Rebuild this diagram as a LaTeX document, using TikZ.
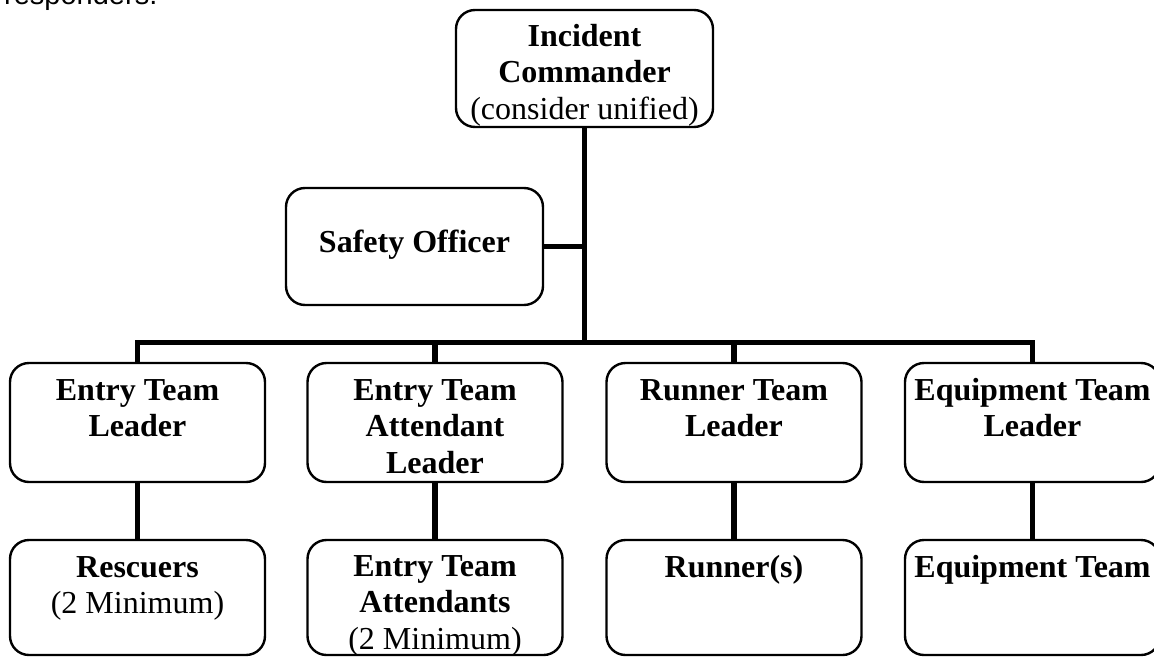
\documentclass[tikz,border=0pt]{standalone}
\usepackage{fontspec}
\setmainfont{Liberation Serif}
\newfontfamily\arialfont{Liberation Sans}
\begin{document}
\begin{tikzpicture}[x=1pt,y=-1pt,
  box/.style={draw, line width=2.4pt, rounded corners=19pt, minimum width=255pt, minimum height=#1, inner sep=0pt},
  box/.default=119pt,
  lbl/.style={inner sep=0pt, align=center, font=\fontsize{32}{36.5}\selectfont, anchor=north},
  conn/.style={line width=5.5pt}]
\useasboundingbox (0,0) rectangle (1154,656);
\clip (0,0) rectangle (1154,656);
% cut-off text at top
\node[inner sep=0pt, anchor=base west, font=\arialfont\fontsize{29}{34}\selectfont] (resp) at (4,4.5) {responders.};
% boxes
\node[box=117pt, minimum width=257pt] (ic) at (584.5,68.5) {};
\node[box=117pt, minimum width=257pt] (so) at (414.5,246.5) {};
\node[box] (etl) at (137.5,422.5) {};
\node[box] (eal) at (435,422.5) {};
\node[box] (rtl) at (734,422.5) {};
\node[box] (eql) at (1032.5,422.5) {};
\node[box=115pt] (res) at (137.5,597.5) {};
\node[box=115pt] (eta) at (435,597.5) {};
\node[box=115pt] (run) at (734,597.5) {};
\node[box=115pt] (eqt) at (1032.5,597.5) {};
% labels
\node[lbl] (ict) at ([yshift=-12pt]ic.north) {\rule{0pt}{25pt}\textbf{Incident}\\\textbf{Commander}\\(consider unified)};
\node[lbl, anchor=base] (sot) at (414.5,252) {\textbf{Safety Officer}};
\node[lbl] (etlt) at ([yshift=-13pt]etl.north) {\rule{0pt}{25pt}\textbf{Entry Team}\\\textbf{Leader}};
\node[lbl] (ealt) at ([yshift=-13pt]eal.north) {\rule{0pt}{25pt}\textbf{Entry Team}\\\textbf{Attendant}\\\textbf{Leader}};
\node[lbl] (rtlt) at ([yshift=-13pt]rtl.north) {\rule{0pt}{25pt}\textbf{Runner Team}\\\textbf{Leader}};
\node[lbl] (eqlt) at ([yshift=-13pt]eql.north) {\rule{0pt}{25pt}\textbf{Equipment Team}\\\textbf{Leader}};
\node[lbl] (rest) at ([yshift=-13pt]res.north) {\rule{0pt}{25pt}\textbf{Rescuers}\\(2 Minimum)};
\node[lbl] (etat) at ([yshift=-12pt]eta.north) {\rule{0pt}{25pt}\textbf{Entry Team}\\\textbf{Attendants}\\(2 Minimum)};
\node[lbl] (runt) at ([yshift=-13pt]run.north) {\rule{0pt}{25pt}\textbf{Runner(s)}};
\node[lbl] (eqtt) at ([yshift=-13pt]eqt.north) {\rule{0pt}{25pt}\textbf{Equipment Team}};
% connectors
\coordinate (bus) at (584.5,342.5);
\draw[conn] (ic.south) -- (bus);
\draw[conn] (so.east) -- (so.east -| ic.south);
\draw[conn, line cap=rect] (etl.north |- bus) -- (eql.north |- bus);
\draw[conn] (etl.north |- bus) -- (etl.north);
\draw[conn] (eal.north |- bus) -- (eal.north);
\draw[conn] (rtl.north |- bus) -- (rtl.north);
\draw[conn] (eql.north |- bus) -- (eql.north);
\draw[conn] (etl) -- (res);
\draw[conn] (eal) -- (eta);
\draw[conn] (rtl) -- (run);
\draw[conn] (eql) -- (eqt);
\end{tikzpicture}
\end{document}
